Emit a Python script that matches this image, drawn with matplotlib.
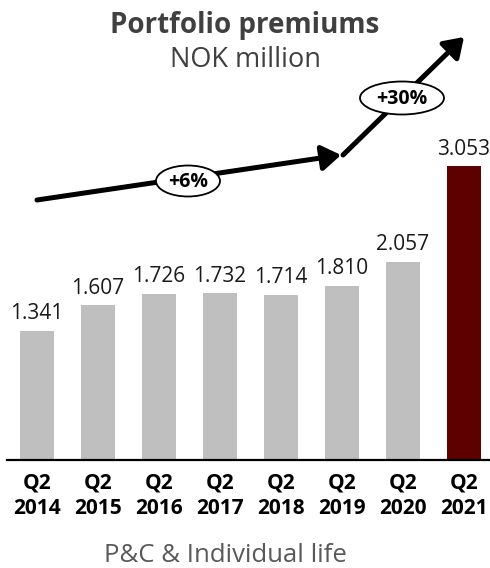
import matplotlib.pyplot as plt
from matplotlib.patches import FancyArrowPatch, Ellipse

plt.rcParams['font.family'] = ['Open Sans', 'DejaVu Sans']

periods = ['Q2\n2014', 'Q2\n2015', 'Q2\n2016', 'Q2\n2017',
           'Q2\n2018', 'Q2\n2019', 'Q2\n2020', 'Q2\n2021']
premiums = [1341, 1607, 1726, 1732, 1714, 1810, 2057, 3053]
growth_labels = ['+6%', '+30%']

W, H = 490, 568
fig = plt.figure(figsize=(W / 100, H / 100), dpi=100)
ax = fig.add_axes([7 / W, (H - 460) / H, 1 - 7 / W, 460 / H])

colors = ['#bfbfbf'] * (len(premiums) - 1) + ['#5f0000']
x = range(len(premiums))
ax.bar(x, premiums, width=0.56, color=colors)
for i, v in enumerate(premiums):
    ax.text(i, v + 70, f'{v / 1000:.3f}', ha='center', va='bottom',
            fontsize=15, color='#1a1a1a')

ax.set_xlim(-0.49, 7.43)
ax.set_ylim(0, 4782)
ax.set_xticks(list(x))
ax.set_xticklabels(periods, fontsize=15, fontweight='bold',
                   linespacing=1.3)
ax.tick_params(axis='x', length=0, pad=9)
ax.set_yticks([])
for side in ['left', 'right', 'top']:
    ax.spines[side].set_visible(False)
ax.spines['bottom'].set_linewidth(1.6)
ax.spines['bottom'].set_color('black')


def px(xp, yp):
    return (xp / W, 1 - yp / H)


# growth arrows with percentage badges
segments = [((37, 200), (341, 155)), ((343, 155), (464, 37))]
badges = [((188, 181), 64, 31), ((402, 98), 84, 33)]
for (start, end), (centre, bw, bh), label in zip(segments, badges, growth_labels):
    arrow = FancyArrowPatch(px(*start), px(*end), transform=fig.transFigure,
                            arrowstyle='-|>,head_length=6,head_width=4',
                            mutation_scale=1.9, linewidth=3.6, color='black',
                            shrinkA=0, shrinkB=0)
    fig.patches.append(arrow)
    badge = Ellipse(px(*centre), bw / W, bh / H, transform=fig.transFigure,
                    facecolor='white', edgecolor='black', linewidth=1.3)
    fig.patches.append(badge)
    fig.text(*px(centre[0], centre[1] + 1), label, ha='center', va='center',
             fontsize=14, fontweight='bold', color='black')

fig.text(*px(245, 25), 'Portfolio premiums', ha='center', va='center',
         fontsize=20, fontweight='bold', color='#404040')
fig.text(*px(245, 60), 'NOK million', ha='center', va='center',
         fontsize=19.5, color='#404040')
fig.text(*px(225, 556), 'P&C & Individual life', ha='center', va='center',
         fontsize=18.5, color='#595959')

fig.savefig('out.png', dpi=100)
